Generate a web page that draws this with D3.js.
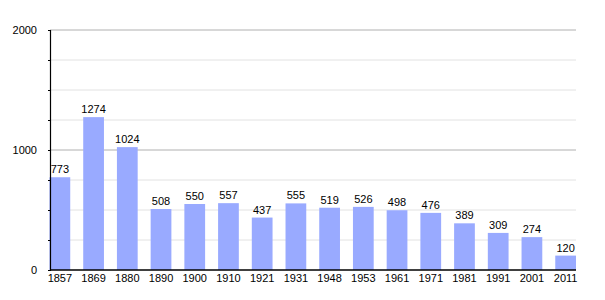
<!DOCTYPE html>
<html>
<head>
<meta charset="utf-8">
<script src="https://cdn.jsdelivr.net/npm/d3@7"></script>
<style>
  body { margin: 0; background: #fff; }
  text { font-family: "Liberation Sans", Arial, sans-serif; font-size: 11px; fill: #000; }
</style>
</head>
<body>
<svg id="chart" width="605" height="300"></svg>
<script>
// population by census year
const years = ["1857", "1869", "1880", "1890", "1900", "1910", "1921", "1931",
               "1948", "1953", "1961", "1971", "1981", "1991", "2001", "2011"];
const population = [773, 1274, 1024, 508, 550, 557, 437, 555,
                    519, 526, 498, 476, 389, 309, 274, 120];
const majorTicks = [0, 1000, 2000];
const minorTicks = [250, 500, 750, 1250, 1500, 1750];

const svg = d3.select("#chart");
const plotLeft = 50, plotRight = 576, plotTop = 30, plotBottom = 270;

const x = d3.scaleBand()
    .domain(years)
    .range([plotLeft - 0.5, plotRight])
    .paddingInner(0.385)
    .paddingOuter(0);

const y = d3.scaleLinear()
    .domain([0, 2000])
    .range([plotBottom, plotTop]);

// minor grid lines
svg.append("g").selectAll("line")
    .data(minorTicks)
    .join("line")
    .attr("x1", plotLeft).attr("x2", plotRight)
    .attr("y1", d => y(d)).attr("y2", d => y(d))
    .attr("stroke", "#e2e2e2");

// major grid lines
svg.append("g").selectAll("line")
    .data(majorTicks.filter(d => d > 0))
    .join("line")
    .attr("x1", plotLeft).attr("x2", plotRight)
    .attr("y1", d => y(d)).attr("y2", d => y(d))
    .attr("stroke", "#b0b0b0");

// bars
svg.append("g").selectAll("rect")
    .data(population)
    .join("rect")
    .attr("x", (d, i) => x(years[i]))
    .attr("width", x.bandwidth())
    .attr("y", d => y(d))
    .attr("height", d => plotBottom - y(d))
    .attr("fill", "#99aaff");

// value labels
svg.append("g").selectAll("text")
    .data(population)
    .join("text")
    .attr("x", (d, i) => x(years[i]) + x.bandwidth() / 2)
    .attr("y", d => y(d) - 4)
    .attr("text-anchor", "middle")
    .text(d => d);

// y axis
const yAxis = d3.axisLeft(y)
    .tickValues(d3.range(0, 2001, 250))
    .tickSize(2)
    .tickPadding(11)
    .tickFormat(d => majorTicks.includes(d) ? d : "");
const yg = svg.append("g")
    .attr("transform", `translate(${plotLeft},0)`)
    .call(yAxis);
yg.select(".domain").attr("stroke", "#000").attr("stroke-width", 1.2);
yg.selectAll("text").attr("font-size", null).attr("font-family", null);

// x axis
const xAxis = d3.axisBottom(x).tickSize(0).tickPadding(4);
const xg = svg.append("g")
    .attr("transform", `translate(0,${plotBottom})`)
    .call(xAxis);
xg.select(".domain").attr("d", `M${plotLeft},0H${plotRight}`)
    .attr("stroke", "#000").attr("stroke-width", 1.5);
xg.selectAll("text").attr("font-size", null).attr("font-family", null);
</script>
</body>
</html>
